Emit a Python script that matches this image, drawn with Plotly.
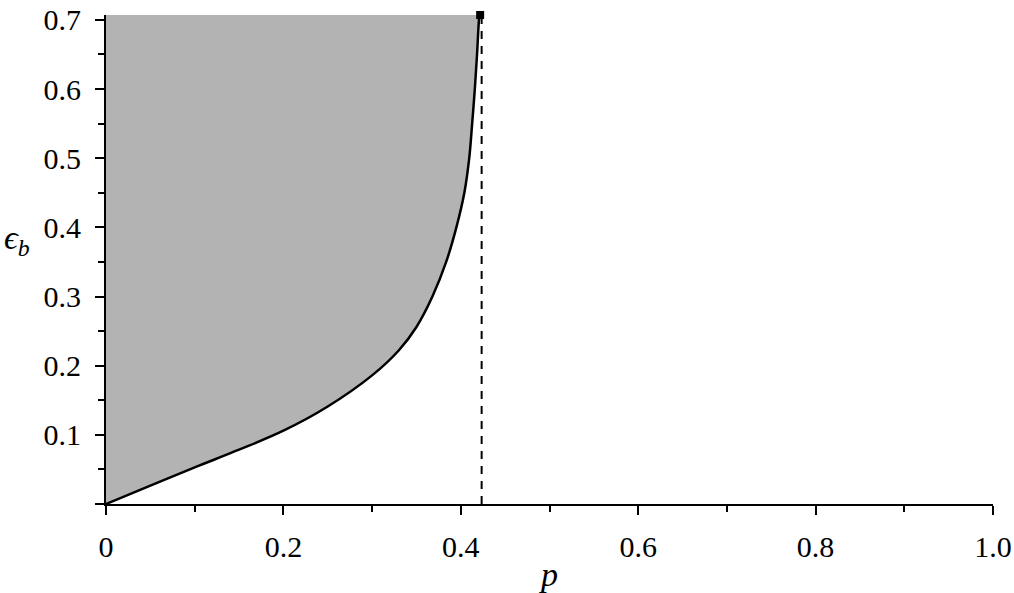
import plotly.graph_objects as go

# threshold curve eps_b(p)
p_vals = [0, 0.05, 0.10, 0.15, 0.20, 0.25, 0.30, 0.33, 0.35, 0.368, 0.3835,
          0.395, 0.404, 0.4095, 0.4128, 0.4158, 0.4183, 0.4205, 0.4212]
eps_vals = [0, 0.0265, 0.053, 0.0785, 0.106, 0.141, 0.186, 0.222, 0.256, 0.300,
            0.35, 0.40, 0.45, 0.50, 0.55, 0.60, 0.65, 0.70, 0.7071]

eps_max = 0.7071
p_star = 0.4235          # dashed asymptote
end_point = (0.4218, 0.7071)

x_ticks = [0, 0.2, 0.4, 0.6, 0.8, 1.0]
x_ticktext = ["0", "0.2", "0.4", "0.6", "0.8", "1.0"]
x_minor = [0.1, 0.3, 0.5, 0.7, 0.9]
y_ticks = [0, 0.1, 0.2, 0.3, 0.4, 0.5, 0.6, 0.7]
y_ticktext = ["", "0.1", "0.2", "0.3", "0.4", "0.5", "0.6", "0.7"]
y_minor = [0.05, 0.15, 0.25, 0.35, 0.45, 0.55, 0.65]

FONT = "'Liberation Serif', 'Times New Roman', serif"

fig = go.Figure()

# left edge (p = 0) so the curve can fill across to it
fig.add_trace(go.Scatter(x=[0, 0], y=[0, eps_max], mode="lines",
                         line=dict(width=0), hoverinfo="skip"))

fig.add_trace(go.Scatter(
    x=p_vals, y=eps_vals, mode="lines", fill="tonextx", fillcolor="#b3b3b3",
    line=dict(color="black", width=2.5, shape="spline", smoothing=1)))

fig.add_trace(go.Scatter(
    x=[p_star, p_star], y=[0, eps_max], mode="lines",
    line=dict(color="black", width=2, dash="8px,7px")))

fig.add_trace(go.Scatter(
    x=[end_point[0]], y=[end_point[1]], mode="markers", cliponaxis=False,
    marker=dict(symbol="square", size=8, color="black",
                line=dict(width=0))))

axis_common = dict(showline=True, linecolor="black", linewidth=2,
                   ticks="outside", ticklen=9, tickwidth=2, tickcolor="black",
                   showgrid=False, zeroline=False, automargin=False,
                   tickfont=dict(family=FONT, size=30, color="black"))

fig.update_xaxes(range=[0, 1], tickvals=x_ticks, ticktext=x_ticktext,
                 minor=dict(tickvals=x_minor, ticklen=6, tickwidth=2,
                            tickcolor="black", ticks="outside"),
                 ticklabelstandoff=6,
                 title=dict(text="<i>p</i>", standoff=4,
                            font=dict(family=FONT, size=34, color="black")),
                 **axis_common)
fig.update_yaxes(range=[0, eps_max], tickvals=y_ticks, ticktext=y_ticktext,
                 minor=dict(tickvals=y_minor, ticklen=6, tickwidth=2,
                            tickcolor="black", ticks="outside"),
                 ticklabelstandoff=8,
                 **axis_common)

fig.add_annotation(text="<i>ϵ<sub>b</sub></i>", xref="paper", yref="paper",
                   x=-0.100, y=0.54, showarrow=False, xanchor="center",
                   font=dict(family=FONT, size=34, color="black"))

fig.update_layout(width=1014, height=593, showlegend=False,
                  plot_bgcolor="white", paper_bgcolor="white",
                  margin=dict(l=106, r=21, t=15, b=89))

fig.write_html("out.html", config={"displayModeBar": False},
               post_script="document.body.style.margin='0';")
